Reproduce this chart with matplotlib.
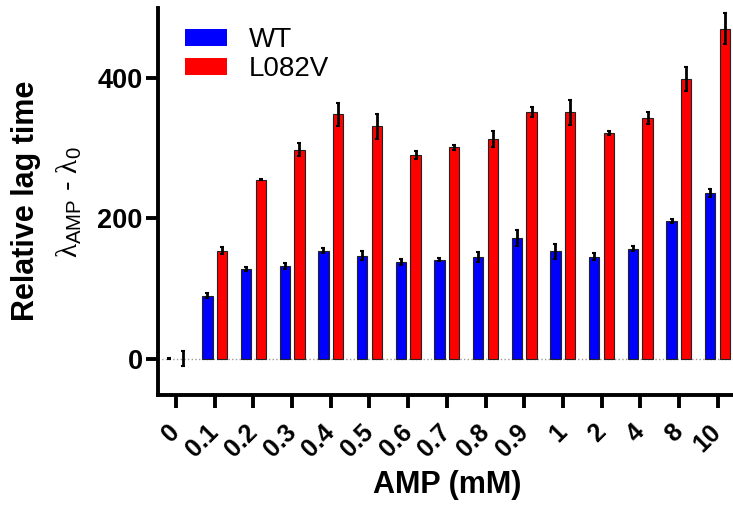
"""
 * Relative lag time vs AMP concentration, WT vs L082V.
"""
import numpy as np
import matplotlib
matplotlib.use("Agg")
from matplotlib import pyplot as plt

# data
amp_labels = ["0", "0.1", "0.2", "0.3", "0.4", "0.5", "0.6", "0.7",
              "0.8", "0.9", "1", "2", "4", "8", "10"]
wt_mean = [0, 90, 128, 132, 154, 147, 138, 141, 145, 172, 153, 145, 157, 196, 236]
wt_err = [1, 3, 3, 4, 4, 7, 4, 2, 7, 12, 11, 5, 3, 3, 6]
mut_mean = [0, 154, 255, 298, 348, 331, 290, 301, 313, 351, 351, 322, 343, 399, 470]
mut_err = [11, 5, 1, 9, 16, 18, 6, 4, 12, 7, 18, 3, 8, 17, 22]

plt.rcParams["font.family"] = ["Liberation Sans", "DejaVu Sans"]
plt.rcParams["mathtext.fontset"] = "custom"
plt.rcParams["mathtext.rm"] = "Liberation Sans"
plt.rcParams["mathtext.sf"] = "Liberation Sans"
plt.rcParams["mathtext.it"] = "Liberation Serif"

fig = plt.figure(figsize=(7.33, 5.2), dpi=100)
ax = fig.add_axes([0.2155, 0.24, 0.7845, 0.745])

x = np.arange(len(amp_labels))
width = 0.27
off = 0.19

# zero-height bars get no outline
wt_lw = [0 if v == 0 else 0.8 for v in wt_mean]
mut_lw = [0 if v == 0 else 0.8 for v in mut_mean]

ax.axhline(0, color="#999999", ls=":", lw=1, zorder=0)

ax.bar(x - off, wt_mean, width, color="#0000ff", edgecolor="#222222",
       linewidth=wt_lw, label="WT", zorder=2)
ax.bar(x + off, mut_mean, width, color="#ff0000", edgecolor="#222222",
       linewidth=mut_lw, label="L082V", zorder=2)
ax.errorbar(x - off, wt_mean, yerr=wt_err, fmt="none", ecolor="black",
            elinewidth=2, capsize=1.5, capthick=1.5, zorder=3)
ax.errorbar(x + off, mut_mean, yerr=mut_err, fmt="none", ecolor="black",
            elinewidth=2, capsize=1.5, capthick=1.5, zorder=3)

ax.set_xlim(-0.47, 14.4)
ax.set_ylim(-52, 500)
ax.set_yticks([0, 200, 400])
ax.set_xticks(x)
ax.set_xticklabels(amp_labels, rotation=45, ha="right", va="center",
                   rotation_mode="anchor", fontsize=18, fontweight="bold")
for lab in ax.get_yticklabels():
    lab.set_fontweight("bold")
    lab.set_fontsize(19.5)

ax.spines["top"].set_visible(False)
ax.spines["right"].set_visible(False)
for s in ["left", "bottom"]:
    ax.spines[s].set_linewidth(2.8)
ax.tick_params(axis="both", length=9, width=2.8, direction="out")
ax.tick_params(axis="x", pad=15)
ax.tick_params(axis="y", pad=2)

fig.text(0.61, 0.067, "AMP (mM)", fontsize=22, fontweight="bold",
         ha="center", va="center")
fig.text(0.035, 0.613, "Relative lag time", rotation=90, fontsize=22,
         fontweight="bold", ha="center", va="center")
fig.text(0.094, 0.612, r"$\lambda_{\mathsf{AMP}}$ - $\lambda_{0}$", rotation=90,
         fontsize=21, ha="center", va="center")

ax.legend(loc="upper left", bbox_to_anchor=(0.013, 1.0), frameon=False,
          fontsize=20, handlelength=1.5, handleheight=0.55,
          labelspacing=0.1, handletextpad=0.8, borderaxespad=0.3)

plt.savefig("out.png", dpi=100)
